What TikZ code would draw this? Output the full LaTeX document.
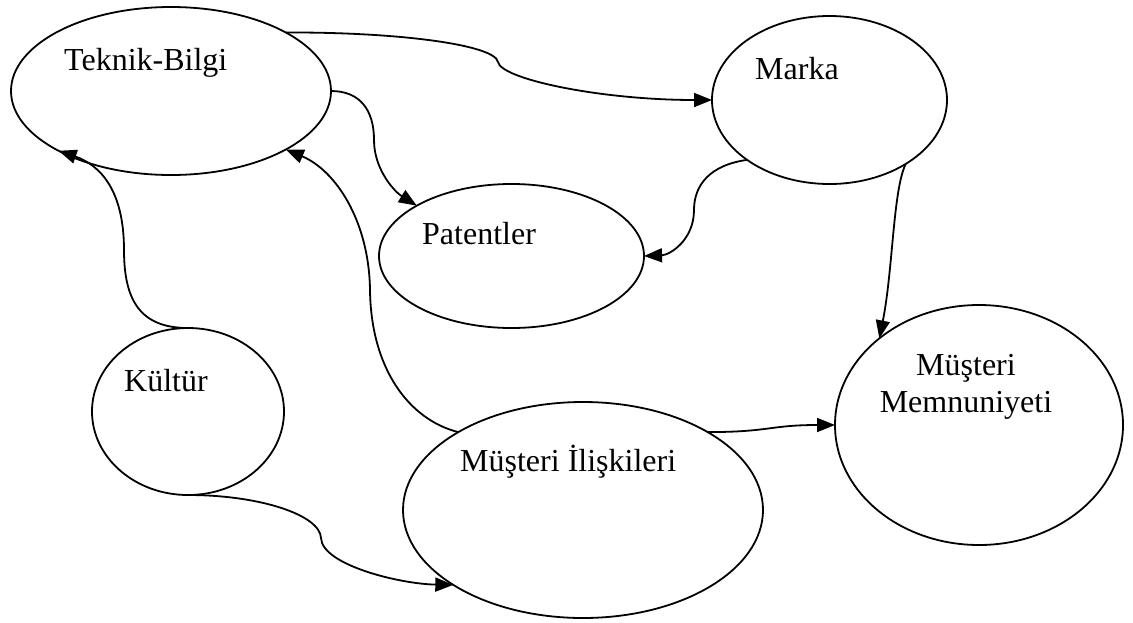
\documentclass[tikz,border=0pt]{standalone}
\usepackage{fontspec}
\setmainfont{Liberation Serif}
\usepackage{tikz}
\usetikzlibrary{arrows.meta,shapes.geometric}

\begin{document}
\begin{tikzpicture}[
  x=1pt,y=-1pt,
  >={Triangle[length=18pt,width=14pt]},
  concept/.style={ellipse,draw=black,line width=1.8pt,inner sep=0pt,outer sep=0pt},
  lbl/.style={font=\fontsize{32}{37}\selectfont,inner sep=0pt,anchor=base west},
  edge/.style={->,draw=black,line width=1.8pt}
]
\useasboundingbox (0,0) rectangle (1133,622);
\node[concept,minimum width=320pt,minimum height=168pt] (teknik) at (171,91) {};
\node[concept,minimum width=235pt,minimum height=168pt] (marka) at (829.5,100) {};
\node[concept,minimum width=265pt,minimum height=144pt] (patent) at (511.5,256) {};
\node[concept,minimum width=192pt,minimum height=167pt] (kultur) at (188,411.5) {};
\node[concept,minimum width=360pt,minimum height=216pt] (iliski) at (583,510) {};
\node[concept,minimum width=288pt,minimum height=240pt] (memnun) at (979,425) {};
\node[lbl] (teknikT) at (64,70) {Teknik-Bilgi};
\node[lbl] (markaT) at (755,79) {Marka};
\node[lbl] (patentT) at (422,244) {Patentler};
\node[lbl] (kulturT) at (124,391) {Kültür};
\node[lbl] (iliskiT) at (460,471) {Müşteri İlişkileri};
\node[lbl,anchor=base,align=center] (memnunT) at (966,412) {Müşteri\\Memnuniyeti};
\draw[edge] (teknik.27) .. controls (400,32) and (495,45) .. (498,62)
  .. controls (501,79) and (600,100) .. (marka.west);
\draw[edge] (teknik.east) .. controls (360,91) and (374,110) .. (374,140)
  .. controls (374,170) and (395,192) .. (patent.152);
\draw[edge] (marka.216) .. controls (710,165) and (694,185) .. (694,210)
  .. controls (694,240) and (670,255) .. (patent.east);
\draw[edge] (marka.320) .. controls (893,190) and (893,270) .. (memnun.139);
\draw[edge] (iliski.32) .. controls (770,432) and (770,425) .. (memnun.west);
\draw[edge] (kultur.north) .. controls (140,328) and (124,300) .. (124,250)
  .. controls (124,190) and (100,165) .. (teknik.208);
\draw[edge] (iliski.148) .. controls (410,420) and (371,370) .. (370,290)
  .. controls (369,220) and (335,170) .. (teknik.333);
\draw[edge] (kultur.south) .. controls (260,495) and (320,515) .. (321,538)
  .. controls (322,565) and (400,584) .. (iliski.210);
\end{tikzpicture}
\end{document}
